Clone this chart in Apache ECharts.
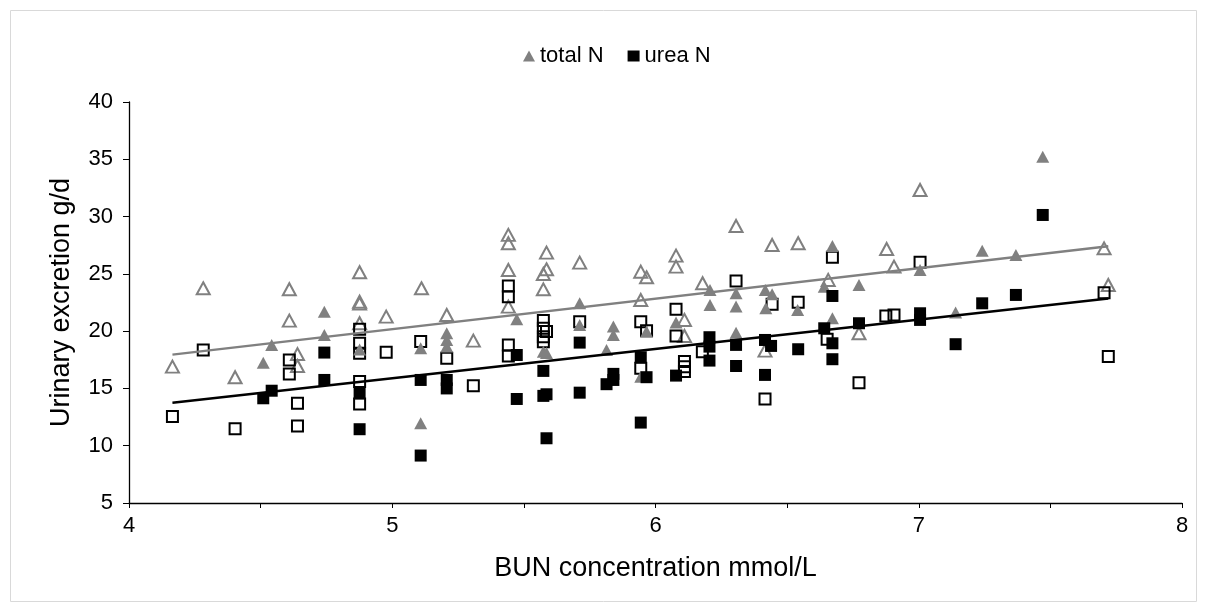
<!DOCTYPE html>
<html>
<head>
<meta charset="utf-8">
<script src="https://cdn.jsdelivr.net/npm/echarts@6/dist/echarts.min.js"></script>
<style>
  html, body { margin: 0; padding: 0; background: #fff; }
  #chart { width: 1207px; height: 612px; }
</style>
</head>
<body>
<div id="chart"></div>
<script>
// total N, group 1 (filled grey triangles)
const totalFilled = [
  [4.51, 17.25], [4.542, 18.8], [4.742, 21.7], [4.742, 19.67], [4.876, 18.4],
  [5.108, 18.5], [5.108, 11.96], [5.207, 19.82], [5.207, 19.23], [5.207, 18.65],
  [5.473, 21.04], [5.574, 18.21], [5.586, 18.1], [5.712, 22.43], [5.712, 20.54],
  [5.814, 18.36], [5.84, 20.4], [5.84, 19.67], [5.944, 16.03], [5.966, 19.96],
  [6.078, 20.75], [6.207, 23.6], [6.207, 22.29], [6.306, 23.3], [6.306, 22.14],
  [6.306, 19.87], [6.417, 23.6], [6.443, 23.22], [6.419, 22.0], [6.54, 21.85],
  [6.641, 23.88], [6.672, 27.43], [6.672, 21.12], [6.773, 24.03], [7.005, 25.34],
  [7.14, 21.62], [7.241, 27.02], [7.369, 26.65], [7.471, 35.23]
];
// total N, group 2 (open grey triangles)
const totalOpen = [
  [4.165, 16.9], [4.282, 23.74], [4.403, 15.98], [4.609, 23.66], [4.609, 20.92],
  [4.64, 18.0], [4.64, 16.96], [4.876, 25.14], [4.876, 22.57], [4.876, 22.4],
  [4.876, 20.69], [4.977, 21.27], [5.111, 23.74], [5.207, 21.41], [5.308, 19.17],
  [5.441, 28.4], [5.441, 27.67], [5.441, 25.34], [5.441, 22.14], [5.574, 24.99],
  [5.574, 23.65], [5.586, 26.85], [5.586, 25.4], [5.712, 25.98], [5.944, 25.19],
  [5.944, 22.72], [5.966, 24.7], [6.078, 26.59], [6.078, 25.63], [6.11, 20.98],
  [6.11, 19.58], [6.179, 24.18], [6.306, 29.18], [6.416, 18.3], [6.443, 27.52],
  [6.542, 27.67], [6.656, 24.47], [6.773, 19.82], [6.878, 27.17], [6.906, 25.63],
  [7.005, 32.32], [7.704, 27.23], [7.72, 24.03]
];
// urea N, group 1 (filled black squares)
const ureaFilled = [
  [4.51, 14.14], [4.542, 14.8], [4.742, 18.13], [4.742, 15.74], [4.876, 14.58],
  [4.876, 11.44], [5.108, 15.74], [5.108, 9.14], [5.207, 15.74], [5.207, 15.0],
  [5.473, 17.92], [5.473, 14.08], [5.574, 16.53], [5.574, 14.35], [5.586, 14.49],
  [5.586, 10.65], [5.712, 19.0], [5.712, 14.63], [5.814, 15.37], [5.84, 16.27],
  [5.84, 15.74], [5.944, 17.72], [5.944, 12.02], [5.966, 15.98], [6.078, 16.12],
  [6.205, 19.47], [6.205, 18.65], [6.205, 17.43], [6.306, 18.8], [6.306, 16.96],
  [6.416, 19.23], [6.439, 18.71], [6.416, 16.18], [6.542, 18.42], [6.641, 20.25],
  [6.672, 23.07], [6.672, 18.94], [6.672, 17.55], [6.773, 20.69], [7.005, 21.56],
  [7.005, 20.98], [7.14, 18.86], [7.241, 22.43], [7.369, 23.16], [7.471, 30.14]
];
// urea N, group 2 (open black squares)
const ureaOpen = [
  [4.165, 12.54], [4.282, 18.36], [4.403, 11.49], [4.609, 17.49], [4.609, 16.27],
  [4.64, 13.7], [4.64, 11.73], [4.876, 20.16], [4.876, 18.94], [4.876, 18.07],
  [4.876, 15.6], [4.876, 13.65], [4.977, 18.16], [5.108, 19.09], [5.207, 17.63],
  [5.308, 15.24], [5.441, 23.94], [5.441, 23.01], [5.441, 18.8], [5.441, 17.84],
  [5.574, 20.92], [5.574, 20.25], [5.586, 19.96], [5.574, 19.52], [5.574, 19.08],
  [5.712, 20.83], [5.944, 20.83], [5.944, 16.76], [5.966, 20.04], [6.078, 21.91],
  [6.078, 19.58], [6.11, 17.34], [6.11, 16.9], [6.11, 16.47], [6.178, 18.21],
  [6.306, 24.38], [6.416, 14.08], [6.443, 22.35], [6.542, 22.52], [6.652, 19.29],
  [6.672, 26.45], [6.773, 15.5], [6.875, 21.33], [6.906, 21.41], [7.005, 26.01],
  [7.704, 23.36], [7.72, 17.78]
];
// linear trend lines (end points)
const trendTotal = [[4.165, 17.95], [7.72, 27.4]];
const trendUrea = [[4.165, 13.75], [7.72, 22.85]];

const grey = "#808080";
const font = "Liberation Sans, Arial, sans-serif";

const chart = echarts.init(document.getElementById("chart"));
const option = {
  animation: false,
  textStyle: { fontFamily: font },
  graphic: [{
    type: "rect",
    shape: { x: 10.5, y: 10.5, width: 1186, height: 591 },
    style: { fill: "none", stroke: "#d9d9d9", lineWidth: 1 },
    silent: true
  }],
  legend: {
    data: [
      { name: "total N", icon: "triangle" },
      { name: "urea N", icon: "rect" }
    ],
    top: 40,
    left: 518,
    itemWidth: 12,
    itemHeight: 11,
    itemGap: 24,
    textStyle: { fontSize: 22, color: "#000", fontFamily: font }
  },
  grid: { left: 129, right: 25, top: 102, bottom: 109 },
  xAxis: {
    type: "value",
    min: 4,
    max: 8,
    interval: 0.5,
    name: "BUN concentration mmol/L",
    nameLocation: "middle",
    nameGap: 52,
    nameTextStyle: { fontSize: 27, color: "#000", fontFamily: font },
    axisLine: { show: true, onZero: false, lineStyle: { color: "#000", width: 1.3 } },
    axisTick: { show: true, inside: false, length: 5, lineStyle: { color: "#000" } },
    axisLabel: {
      fontSize: 22, color: "#000", margin: 12,
      formatter: v => (Number.isInteger(v) ? String(v) : "")
    },
    splitLine: { show: false }
  },
  yAxis: {
    type: "value",
    min: 5,
    max: 40,
    interval: 5,
    name: "Urinary excretion g/d",
    nameLocation: "middle",
    nameGap: 54,
    nameTextStyle: { fontSize: 27, color: "#000", fontFamily: font },
    axisLine: { show: true, onZero: false, lineStyle: { color: "#000", width: 1.3 } },
    axisTick: { show: true, inside: false, length: 6, lineStyle: { color: "#000" } },
    axisLabel: { fontSize: 22, color: "#000", margin: 16 },
    splitLine: { show: false }
  },
  series: [
    {
      name: "total N open",
      type: "scatter",
      symbol: "triangle",
      symbolSize: [13, 12],
      data: totalOpen,
      itemStyle: { color: "rgba(0,0,0,0)", borderColor: grey, borderWidth: 2, opacity: 1 },
      z: 2
    },
    {
      name: "urea N open",
      type: "scatter",
      symbol: "rect",
      symbolSize: 11,
      data: ureaOpen,
      itemStyle: { color: "rgba(0,0,0,0)", borderColor: "#000", borderWidth: 2, opacity: 1 },
      z: 2
    },
    {
      name: "total N",
      type: "scatter",
      symbol: "triangle",
      symbolSize: [13, 12],
      data: totalFilled,
      itemStyle: { color: grey, opacity: 1 },
      z: 3
    },
    {
      name: "urea N",
      type: "scatter",
      symbol: "rect",
      symbolSize: 12,
      data: ureaFilled,
      itemStyle: { color: "#000", opacity: 1 },
      z: 3
    },
    {
      name: "trend total",
      type: "line",
      data: trendTotal,
      symbol: "none",
      lineStyle: { color: grey, width: 2.5 },
      z: 4
    },
    {
      name: "trend urea",
      type: "line",
      data: trendUrea,
      symbol: "none",
      lineStyle: { color: "#000", width: 2.5 },
      z: 4
    }
  ]
};
chart.setOption(option);
</script>
</body>
</html>
